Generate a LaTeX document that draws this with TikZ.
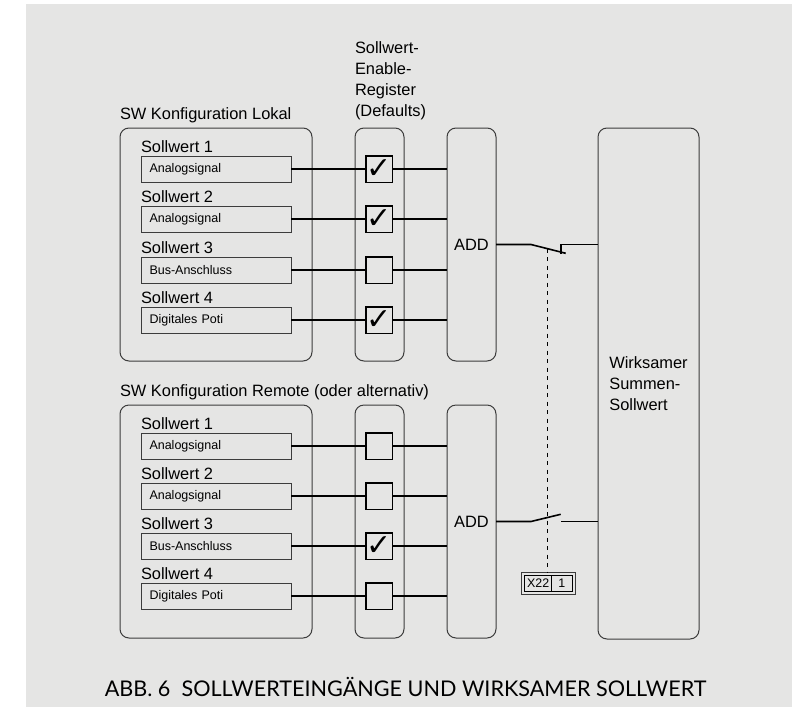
\documentclass[tikz,border=0pt]{standalone}
\usepackage{fontspec}
\usepackage{xcolor}
\usetikzlibrary{positioning}
\setmainfont{Liberation Sans}
\newfontfamily\capfont{Lato}
\newfontfamily\tickfont{DejaVu Sans}
\definecolor{panelgray}{RGB}{229,229,228}
\definecolor{linegray}{RGB}{60,60,60}

\begin{document}
\begin{tikzpicture}[
    x=1pt,y=-1pt,
    outer sep=0pt,
    konfbox/.style={rectangle,rounded corners=9pt,draw=linegray,line width=1pt,
      minimum width=192pt,minimum height=233pt,inner sep=0pt},
    regbox/.style={rectangle,rounded corners=9pt,draw=linegray,line width=1pt,
      minimum width=49pt,minimum height=233pt,inner sep=0pt},
    addbox/.style={regbox,font=\fontsize{16.4}{21}\selectfont},
    sumbox/.style={regbox,minimum width=101pt,minimum height=511pt,align=left,
      font=\fontsize{16.4}{21}\selectfont},
    sigbox/.style={rectangle,draw=linegray,line width=1pt,text width=133pt,inner xsep=8.5pt,
      inner ysep=0pt,minimum height=26pt,align=left,font=\fontsize{12.5}{14}\selectfont},
    swname/.style={inner sep=0pt,text depth=0pt,font=\fontsize{16.4}{21}\selectfont},
    heading/.style={inner sep=0pt,text depth=0pt,align=left,font=\fontsize{16.4}{21}\selectfont},
    enbox/.style={rectangle,draw=black,line width=1.5pt,minimum size=26.5pt,inner sep=0pt,
      font=\tickfont\fontsize{30}{30}\selectfont},
    cell/.style={rectangle,draw=black,line width=0.8pt,minimum height=15.3pt,inner sep=0pt,
      font=\fontsize{12.4}{14}\selectfont},
    wire/.style={draw=black,line width=1.6pt}
  ]
    \useasboundingbox (0,0) rectangle (792,707);
    \fill[panelgray] (26,4) rectangle (792,707);

    \node[konfbox] (lokal) at (216,244.5) {};
    \node[regbox,right=43pt of lokal] (regA) {};
    \node[addbox,right=43pt of regA] (addA) {ADD};
    \node[konfbox,below=44pt of lokal] (remote) {};
    \node[regbox,right=43pt of remote] (regB) {};
    \node[addbox,right=43pt of regB] (addB) {ADD};
    \node[sumbox,below right=0pt and 102pt of addA.north east] (sum) {Wirksamer\\Summen-\\Sollwert};

    \node[heading,above right=9pt and 0pt of lokal.north west] (lokaltitle) {SW Konfiguration Lokal};
    \node[heading,above right=12pt and 0pt of regA.north west] (regtitle) {Sollwert-\\Enable-\\Register\\(Defaults)};
    \node[heading,above right=9pt and 0pt of remote.north west] (remotetitle) {SW Konfiguration Remote (oder alternativ)};

    % lokal
    \node[sigbox,below=28pt of lokal.north] (sigA) {Analogsignal};
    \node[sigbox,below=24pt of sigA] (sigB) {Analogsignal};
    \node[sigbox,below=25pt of sigB] (sigC) {Bus-Anschluss};
    \node[sigbox,below=24pt of sigC] (sigD) {Digitales Poti};
    \node[swname,above right=3.5pt and 0pt of sigA.north west] {Sollwert 1};
    \node[swname,above right=3.5pt and 0pt of sigB.north west] {Sollwert 2};
    \node[swname,above right=3.5pt and 0pt of sigC.north west] {Sollwert 3};
    \node[swname,above right=3.5pt and 0pt of sigD.north west] {Sollwert 4};
    \node[enbox,right=75pt of sigA] (enA) {✓};
    \node[enbox,right=75pt of sigB] (enB) {✓};
    \node[enbox,right=75pt of sigC] (enC) {};
    \node[enbox,right=75pt of sigD] (enD) {✓};

    % remote
    \node[sigbox,below=28pt of remote.north] (sigE) {Analogsignal};
    \node[sigbox,below=24pt of sigE] (sigF) {Analogsignal};
    \node[sigbox,below=24pt of sigF] (sigG) {Bus-Anschluss};
    \node[sigbox,below=24pt of sigG] (sigH) {Digitales Poti};
    \node[swname,above right=3.5pt and 0pt of sigE.north west] {Sollwert 1};
    \node[swname,above right=3.5pt and 0pt of sigF.north west] {Sollwert 2};
    \node[swname,above right=3.5pt and 0pt of sigG.north west] {Sollwert 3};
    \node[swname,above right=3.5pt and 0pt of sigH.north west] {Sollwert 4};
    \node[enbox,right=75pt of sigE] (enE) {};
    \node[enbox,right=75pt of sigF] (enF) {};
    \node[enbox,right=75pt of sigG] (enG) {✓};
    \node[enbox,right=75pt of sigH] (enH) {};

    \draw[wire] (sigA) -- (enA);
    \draw[wire] (sigB) -- (enB);
    \draw[wire] (sigC) -- (enC);
    \draw[wire] (sigD) -- (enD);
    \draw[wire] (sigE) -- (enE);
    \draw[wire] (sigF) -- (enF);
    \draw[wire] (sigG) -- (enG);
    \draw[wire] (sigH) -- (enH);
    \draw[wire] (enA) -- (enA -| addA.west);
    \draw[wire] (enB) -- (enB -| addA.west);
    \draw[wire] (enC) -- (enC -| addA.west);
    \draw[wire] (enD) -- (enD -| addA.west);
    \draw[wire] (enE) -- (enE -| addB.west);
    \draw[wire] (enF) -- (enF -| addB.west);
    \draw[wire] (enG) -- (enG -| addB.west);
    \draw[wire] (enH) -- (enH -| addB.west);

    % X22 klemme
    \node[rectangle,draw=linegray,line width=0.8pt,minimum width=53.7pt,minimum height=22pt,inner sep=0pt] (klemme) at (548.2,583.3) {};
    \node[cell,minimum width=27pt] (klemmeA) at (538.2,583.3) {X22};
    \node[cell,minimum width=20.3pt,right=0pt of klemmeA] (klemmeB) {1};

    % schalter
    \coordinate[right=35pt of addA.east] (swAin);
    \coordinate (swAtip) at (565.7,253.3);
    \coordinate (swAcontact) at (560.7,254);
    \coordinate (swAmid) at (547.5,248.6);
    \coordinate[right=35pt of addB.east] (swBin);
    \coordinate (swBtip) at (560.7,514.3);
    \coordinate (swBout) at (561,521.5);
    \draw[wire] (addA.east) -- (swAin) -- (swAtip);
    \draw[wire] (swAcontact) -- (swAcontact |- addA.east) -- (sum.west |- addA.east);
    \draw[wire] (addB.east) -- (swBin) -- (swBtip);
    \draw[wire] (swBout) -- (sum.west |- addB.east);
    \draw[draw=black,line width=1.6pt,dash pattern=on 4pt off 4.5pt] (swAmid) -- (swAmid |- klemme.north);

    \node[font=\capfont\fontsize{21.6}{24}\selectfont,inner sep=0pt] (caption) at (405.5,687) {ABB. 6\ \ SOLLWERTEINGÄNGE UND WIRKSAMER SOLLWERT};
\end{tikzpicture}
\end{document}
